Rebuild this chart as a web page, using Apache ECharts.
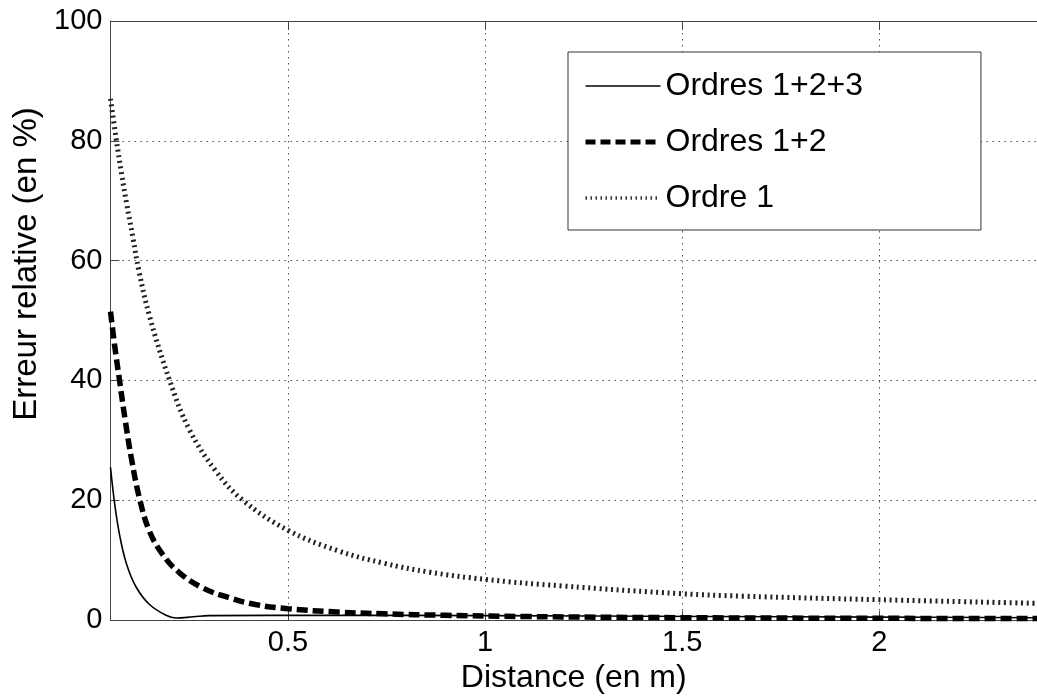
<!DOCTYPE html>
<html>
<head>
<meta charset="utf-8">
<script src="https://cdn.jsdelivr.net/npm/echarts@6/dist/echarts.min.js"></script>
<style>
  html, body { margin: 0; padding: 0; background: #fff; }
  #chart { width: 1037px; height: 699px; }
</style>
</head>
<body>
<div id="chart"></div>
<script>
// values
var seriesNames = ['Ordres 1+2+3', 'Ordres 1+2', 'Ordre 1'];
var xTicks = [0.5, 1, 1.5, 2];

var xOrdres123 = [0.05, 0.061, 0.074, 0.091, 0.116, 0.149, 0.191, 0.216, 0.26, 0.3, 0.6, 1.0, 1.56, 2.0, 2.4];
var yOrdres123 = [25.5, 19.2, 13.9, 9.3, 5.4, 2.6, 0.8, 0.35, 0.55, 0.75, 0.8, 0.75, 0.6, 0.5, 0.4];

var xOrdres12 = [0.05, 0.061, 0.074, 0.087, 0.103, 0.124, 0.149, 0.183, 0.225, 0.283, 0.35, 0.417, 0.5, 0.626, 0.743, 0.9, 1.1, 1.5, 2.0, 2.4];
var yOrdres12 = [51.5, 45.6, 39.5, 33.5, 27, 20.2, 14.8, 10.9, 7.9, 5.4, 3.75, 2.6, 1.9, 1.35, 1.05, 0.8, 0.6, 0.4, 0.3, 0.25];

var xOrdre1 = [0.05, 0.064, 0.078, 0.091, 0.107, 0.122, 0.15, 0.2, 0.25, 0.317, 0.384, 0.5, 0.626, 0.743, 0.86, 1.0, 1.195, 1.5, 1.65, 2.0, 2.4];
var yOrdre1 = [87, 80.5, 74.5, 69.5, 63.8, 58.3, 50.5, 40, 31.8, 24.9, 20.1, 15.0, 11.6, 9.5, 8.0, 6.8, 5.7, 4.4, 4.0, 3.4, 2.8];

function pairs(xs, ys) {
  return xs.map(function (x, i) { return [x, ys[i]]; });
}

var font = 'Liberation Sans';
var chart = echarts.init(document.getElementById('chart'));

chart.setOption({
  animation: false,
  backgroundColor: '#fff',
  grid: { left: 110.5, top: 21, bottom: 73, right: -10, containLabel: false },
  legend: {
    orient: 'vertical',
    left: 568,
    top: 52,
    padding: [18, 118, 16, 15],
    itemGap: 24,
    itemWidth: 75,
    itemHeight: 14,
    backgroundColor: '#fff',
    borderColor: '#333',
    borderWidth: 1,
    borderRadius: 0,
    itemStyle: { opacity: 0 },
    textStyle: { fontFamily: font, fontSize: 32, color: '#000' },
    data: [
      { name: seriesNames[0], itemStyle: { opacity: 0 }, lineStyle: { width: 1.6, type: 'solid', color: '#000' } },
      { name: seriesNames[1], itemStyle: { opacity: 0 }, lineStyle: { width: 5, type: [10, 5], color: '#000' } },
      { name: seriesNames[2], itemStyle: { opacity: 0 }, lineStyle: { width: 3.5, type: [1.5, 3.5], color: '#333' } }
    ]
  },
  graphic: [{
    type: 'text',
    x: 27,
    y: 264,
    rotation: Math.PI / 2,
    style: {
      text: 'Erreur relative (en %)',
      fontFamily: font,
      fontSize: 33,
      fill: '#000',
      align: 'center',
      verticalAlign: 'middle'
    }
  }],
  xAxis: [{
    type: 'value',
    min: 0.05,
    max: 2.4,
    name: 'Distance (en m)',
    nameLocation: 'middle',
    nameGap: 32,
    nameTextStyle: { fontFamily: font, fontSize: 32, color: '#000' },
    axisLine: { show: true, lineStyle: { color: '#444', width: 1 } },
    axisTick: { show: true, inside: true, length: 9, customValues: xTicks, lineStyle: { color: '#444' } },
    axisLabel: { customValues: xTicks, fontFamily: font, fontSize: 29, color: '#000', margin: 8 },
    splitLine: { show: true, lineStyle: { color: '#555', type: [1.5, 4.5], width: 1 } }
  }, {
    type: 'value',
    position: 'top',
    min: 0.05,
    max: 2.4,
    axisLine: { show: true, onZero: false, lineStyle: { color: '#444', width: 1 } },
    axisTick: { show: true, inside: true, length: 9, customValues: xTicks, lineStyle: { color: '#444' } },
    axisLabel: { show: false },
    splitLine: { show: false }
  }],
  yAxis: {
    type: 'value',
    min: 0,
    max: 100,
    interval: 20,
    axisLine: { show: true, lineStyle: { color: '#444', width: 1 } },
    axisTick: { show: true, inside: true, length: 9, lineStyle: { color: '#444' } },
    axisLabel: { fontFamily: font, fontSize: 29, color: '#000', margin: 8 },
    splitLine: { show: true, lineStyle: { color: '#555', type: [1.5, 4.5], width: 1 } }
  },
  series: [{
    name: seriesNames[0],
    type: 'line',
    data: pairs(xOrdres123, yOrdres123),
    showSymbol: false,
    symbol: 'none',
    smooth: 0.4,
    lineStyle: { color: '#000', width: 1.6, type: 'solid' },
    itemStyle: { color: '#000' },
    z: 4
  }, {
    name: seriesNames[1],
    type: 'line',
    data: pairs(xOrdres12, yOrdres12),
    showSymbol: false,
    symbol: 'none',
    smooth: 0.4,
    lineStyle: { color: '#000', width: 5.5, type: [11, 5], cap: 'butt' },
    itemStyle: { color: '#000' },
    z: 3
  }, {
    name: seriesNames[2],
    type: 'line',
    data: pairs(xOrdre1, yOrdre1),
    showSymbol: false,
    symbol: 'none',
    smooth: 0.4,
    lineStyle: { color: '#222', width: 5, type: [2, 3.7], cap: 'butt' },
    itemStyle: { color: '#222' },
    z: 2
  }]
});
</script>
</body>
</html>
